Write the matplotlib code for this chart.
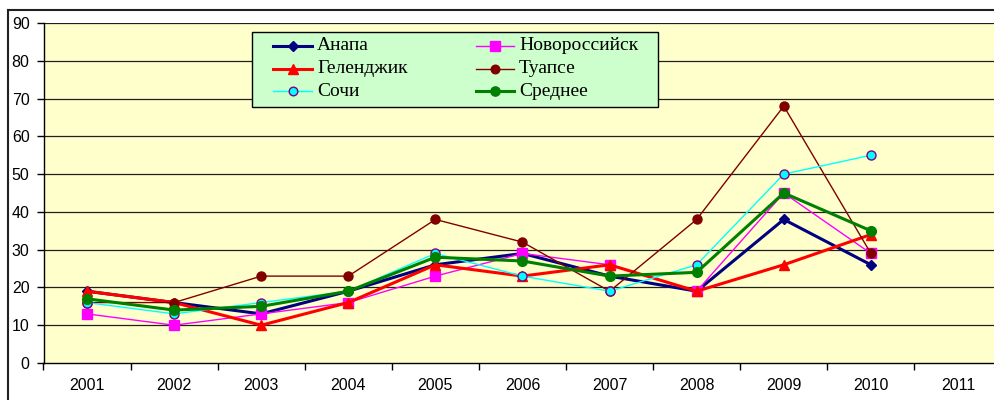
import matplotlib
matplotlib.use("Agg")
import matplotlib.pyplot as plt
from matplotlib.lines import Line2D
from matplotlib.patches import Rectangle

# данные по годам
years = ["2001", "2002", "2003", "2004", "2005", "2006", "2007", "2008", "2009", "2010", "2011"]
anapa = [19, 16, 13, 19, 26, 29, 23, 19, 38, 26]
novoross = [13, 10, 13, 16, 23, 29, 26, 19, 45, 29]
gelendzhik = [19, 16, 10, 16, 26, 23, 26, 19, 26, 34]
tuapse = [16, 16, 23, 23, 38, 32, 19, 38, 68, 29]
sochi = [16, 13, 16, 19, 29, 23, 19, 26, 50, 55]
srednee = [17, 14, 15, 19, 28, 27, 23, 24, 45, 35]

plt.rcParams["font.family"] = ["Liberation Sans", "DejaVu Sans"]

fig = plt.figure(figsize=(9.94, 4.0), dpi=100)
W, H = 994.0, 400.0

# рамка области диаграммы
fig.add_artist(Line2D([8 / W, 8 / W], [0, 1 - 10 / H], transform=fig.transFigure, color="#202020", lw=1.5))
fig.add_artist(Line2D([8 / W, 1], [1 - 10 / H, 1 - 10 / H], transform=fig.transFigure, color="#202020", lw=1.5))

ax = fig.add_axes([43.5 / W, 37 / H, 958 / W, 340 / H])
ax.set_facecolor("#FFFFCC")

x = list(range(len(anapa)))
series = [
    ("Анапа", anapa, dict(color="#000080", lw=2.2, marker="D", ms=5, mfc="#000080", mec="#000080")),
    ("Новороссийск", novoross, dict(color="#FF00FF", lw=1.0, marker="s", ms=7, mfc="#FF00FF", mec="#FF00FF")),
    ("Геленджик", gelendzhik, dict(color="#FF0000", lw=2.2, marker="^", ms=7.5, mfc="#FF0000", mec="#FF0000")),
    ("Туапсе", tuapse, dict(color="#800000", lw=1.0, marker="o", ms=6.5, mfc="#800000", mec="#800000")),
    ("Сочи", sochi, dict(color="#00FFFF", lw=1.0, marker="o", ms=6.5, mfc="#00FFFF", mec="#800080", mew=1.0)),
    ("Среднее", srednee, dict(color="#008000", lw=2.2, marker="o", ms=7, mfc="#008000", mec="#008000")),
]
for name, vals, st in series:
    ax.plot(x, vals, **st)

ax.set_xlim(-0.5, len(years) - 0.5)
ax.set_ylim(0, 90)
ax.set_yticks(range(0, 91, 10))
for v in range(10, 91, 10):
    ax.axhline(v, color="#202020", lw=0.9, zorder=0.5)

ax.set_xticks([i - 0.5 for i in range(len(years) + 1)])
ax.set_xticklabels([])
ax.set_xticks(range(len(years)), minor=True)
ax.set_xticklabels(years, minor=True)
ax.tick_params(axis="x", which="major", direction="out", length=5, width=1, color="black")
ax.tick_params(axis="x", which="minor", length=0, pad=11, labelsize=11.5)
ax.tick_params(axis="y", direction="out", length=5, width=1, pad=5, labelsize=11.5)

for s in ["top", "right"]:
    ax.spines[s].set_visible(False)
ax.spines["left"].set_linewidth(1)
ax.spines["bottom"].set_linewidth(1)

# легенда
lx0, ly0, lx1, ly1 = 252, 32, 658, 107
fig.add_artist(Rectangle((lx0 / W, 1 - ly1 / H), (lx1 - lx0) / W, (ly1 - ly0) / H,
                         transform=fig.transFigure, facecolor="#CCFFCC", edgecolor="black", lw=1, zorder=5))
rows = [45.5, 68.5, 91]
cols = [(273, 312, 317), (476, 514, 519)]
for k, (name, vals, st) in enumerate(series):
    r, c = k // 2, k % 2
    hx0, hx1, tx = cols[c]
    yy = 1 - rows[r] / H
    fig.add_artist(Line2D([hx0 / W, hx1 / W], [yy, yy], transform=fig.transFigure,
                          color=st["color"], lw=st["lw"], zorder=6))
    fig.add_artist(Line2D([(hx0 + hx1) / 2 / W], [yy], transform=fig.transFigure, lw=0,
                          marker=st["marker"], ms=st["ms"] * 0.95, mfc=st["mfc"], mec=st["mec"],
                          mew=st.get("mew", 1.0), zorder=7))
    fig.text(tx / W, yy, name, ha="left", va="center", fontsize=14,
             family=["Liberation Serif", "DejaVu Serif"], zorder=7)

fig.savefig("out.png", dpi=100)
